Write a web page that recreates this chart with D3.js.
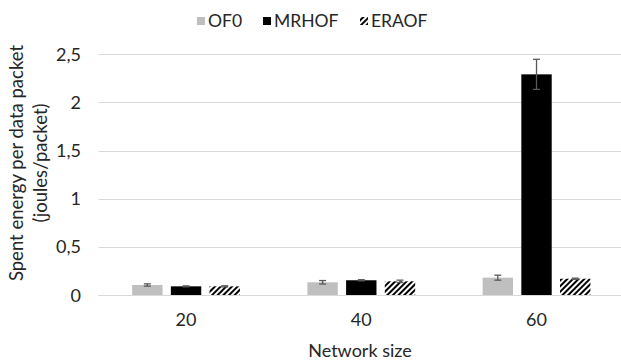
<!DOCTYPE html>
<html><head><meta charset="utf-8">
<script src="https://cdn.jsdelivr.net/npm/d3@7"></script>
<style>html,body{margin:0;padding:0;background:#fff;overflow:hidden}</style>
</head><body>
<svg id="c" width="621" height="362"></svg>
<script>
const categories = ["20", "40", "60"];
const seriesNames = ["OF0", "MRHOF", "ERAOF"];
const of0Values = [0.107, 0.135, 0.183];
const of0Errors = [0.012, 0.018, 0.026];
const mrhofValues = [0.093, 0.156, 2.292];
const mrhofErrors = [0.005, 0.006, 0.156];
const eraofValues = [0.093, 0.145, 0.172];
const eraofErrors = [0.006, 0.012, 0.006];
const yTicks = [0, 0.5, 1, 1.5, 2, 2.5];

const seriesValues = [of0Values, mrhofValues, eraofValues];
const seriesErrors = [of0Errors, mrhofErrors, eraofErrors];

const svg = d3.select("#c");
const font = "Lato, 'Open Sans', sans-serif";
const fs = 18;

const defs = svg.append("defs");
const pat = defs.append("pattern").attr("id", "hatch").attr("patternUnits", "userSpaceOnUse")
  .attr("width", 4).attr("height", 4).attr("patternTransform", "rotate(45)");
pat.append("rect").attr("width", 4).attr("height", 4).attr("fill", "#fff");
pat.append("rect").attr("width", 2).attr("height", 4).attr("fill", "#000");

const fills = ["#bfbfbf", "#000", "url(#hatch)"];

const y = d3.scaleLinear().domain([0, 2.5]).range([295.3, 54.3]);
const x0 = d3.scaleBand().domain(categories).range([98.4, 624.1]).padding(0);
const x1 = d3.scaleBand().domain(seriesNames).range([29.6, 145.7]).paddingInner(0.215).paddingOuter(0.1075);

// gridlines
svg.append("g").selectAll("line").data(yTicks).join("line")
  .attr("x1", 98.4).attr("x2", 624).attr("y1", d => Math.round(y(d)) + 0.5).attr("y2", d => Math.round(y(d)) + 0.5)
  .attr("stroke", "#d9d9d9").attr("stroke-width", 1);

// y tick labels
const yAxis = d3.axisLeft(y).tickValues(yTicks).tickSize(0).tickPadding(0)
  .tickFormat(d => String(d).replace(".", ","));
const ya = svg.append("g").attr("transform", "translate(81,0)").call(yAxis);
ya.select(".domain").remove();
ya.selectAll("text").attr("font-family", font).attr("font-size", fs).attr("fill", "#262626");

// x tick labels
const xAxis = d3.axisBottom(x0).tickSize(0).tickPadding(0);
const xa = svg.append("g").attr("transform", "translate(0,313)").call(xAxis);
xa.select(".domain").remove();
xa.selectAll("text").attr("font-family", font).attr("font-size", fs).attr("fill", "#262626");

// bars
const groups = svg.append("g").selectAll("g").data(categories).join("g")
  .attr("transform", d => `translate(${x0(d)},0)`);
seriesNames.forEach((s, si) => {
  groups.append("rect")
    .attr("x", x1(s)).attr("width", x1.bandwidth())
    .attr("y", (d, i) => y(seriesValues[si][i]))
    .attr("height", (d, i) => y(0) - y(seriesValues[si][i]))
    .attr("fill", fills[si]);
});
// error bars
seriesNames.forEach((s, si) => {
  const cx = x1(s) + x1.bandwidth() / 2;
  const eg = groups.append("g").attr("stroke", "#595959").attr("stroke-width", 1.3);
  eg.append("line").attr("x1", cx).attr("x2", cx)
    .attr("y1", (d, i) => y(seriesValues[si][i] + seriesErrors[si][i]))
    .attr("y2", (d, i) => y(seriesValues[si][i] - seriesErrors[si][i]));
  eg.append("line").attr("x1", cx - 3.5).attr("x2", cx + 3.5)
    .attr("y1", (d, i) => y(seriesValues[si][i] + seriesErrors[si][i]))
    .attr("y2", (d, i) => y(seriesValues[si][i] + seriesErrors[si][i]));
  eg.append("line").attr("x1", cx - 3.5).attr("x2", cx + 3.5)
    .attr("y1", (d, i) => y(seriesValues[si][i] - seriesErrors[si][i]))
    .attr("y2", (d, i) => y(seriesValues[si][i] - seriesErrors[si][i]));
});

// x axis line
svg.append("line").attr("x1", 98.4).attr("x2", 624).attr("y1", 295.5).attr("y2", 295.5)
  .attr("stroke", "#d9d9d9").attr("stroke-width", 1);

// axis titles
svg.append("text").attr("x", 360).attr("y", 357).attr("text-anchor", "middle")
  .attr("font-family", font).attr("font-size", fs).attr("fill", "#262626").text("Network size");
const yt = svg.append("text").attr("transform", "translate(0,163) rotate(-90)")
  .attr("text-anchor", "middle").attr("font-family", font).attr("font-size", 18.5).attr("fill", "#262626");
yt.append("tspan").attr("x", 0).attr("y", 23).text("Spent energy per data packet");
yt.append("tspan").attr("x", 0).attr("y", 47).text("(joules/packet)");

// legend
const legendX = [197, 263, 360];
const lg = svg.append("g");
seriesNames.forEach((s, si) => {
  lg.append("rect").attr("x", legendX[si]).attr("y", 17).attr("width", 8).attr("height", 8).attr("fill", fills[si]);
  lg.append("text").attr("x", legendX[si] + 11).attr("y", 27).attr("font-family", font).attr("font-size", 17.5)
    .attr("fill", "#262626").text(s);
});
</script>
</body></html>
